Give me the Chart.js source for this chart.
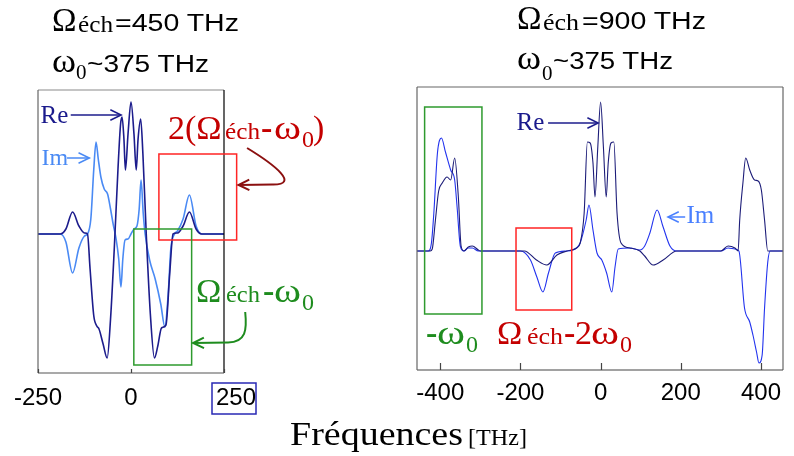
<!DOCTYPE html>
<html>
<head>
<meta charset="utf-8">
<script src="https://cdn.jsdelivr.net/npm/chart.js@4.4.1/dist/chart.umd.min.js"></script>
<style>
    body { margin: 0; background: #fff; }
    #wrap { position: relative; width: 794px; height: 456px; overflow: hidden; }
    #chartLeft { position: absolute; left: 0; top: 0; }
    #chartRight { position: absolute; left: 390px; top: 0; }
    #labels { position: absolute; left: 0; top: 0; pointer-events: none; }
</style>
</head>
<body>
<div id="wrap">
    <canvas id="chartLeft" width="300" height="456"></canvas>
    <canvas id="chartRight" width="404" height="456"></canvas>
    <svg id="labels" width="794" height="456" font-family="'Liberation Serif', 'Times New Roman', serif">
        <!-- titles -->
        <text x="52" y="30.5" font-size="33">Ω</text>
        <text x="78" y="31.5" font-size="23" textLength="35" lengthAdjust="spacingAndGlyphs">éch</text>
        <text x="115" y="30.5" font-size="23" font-family="'Liberation Sans', Arial, sans-serif" textLength="124" lengthAdjust="spacingAndGlyphs">=450 THz</text>
        <text x="52" y="71.5" font-size="34" textLength="24" lengthAdjust="spacingAndGlyphs">ω</text>
        <text x="76" y="79" font-size="21">0</text>
        <text x="87" y="71.5" font-size="23" font-family="'Liberation Sans', Arial, sans-serif" textLength="122" lengthAdjust="spacingAndGlyphs">~375 THz</text>

        <text x="517" y="28.5" font-size="33">Ω</text>
        <text x="543" y="29.5" font-size="23" textLength="36" lengthAdjust="spacingAndGlyphs">éch</text>
        <text x="582" y="28.5" font-size="23" font-family="'Liberation Sans', Arial, sans-serif" textLength="124" lengthAdjust="spacingAndGlyphs">=900 THz</text>
        <text x="517" y="68.5" font-size="34" textLength="24" lengthAdjust="spacingAndGlyphs">ω</text>
        <text x="542" y="79.5" font-size="21">0</text>
        <text x="553" y="68.5" font-size="23" font-family="'Liberation Sans', Arial, sans-serif" textLength="120" lengthAdjust="spacingAndGlyphs">~375 THz</text>

        <!-- Re / Im tags -->
        <text x="40.5" y="123" font-size="25" fill="#1a1a8c">Re</text>
        <text x="41.5" y="165" font-size="24" fill="#4a8af4">Im</text>
        <text x="516.5" y="130" font-size="25" fill="#1a1a8c">Re</text>
        <text x="686.5" y="223" font-size="25" fill="#4a80ff">Im</text>

        <!-- aliasing notes -->
        <g fill="#c40000">
            <text x="168" y="138.5" font-size="34">2(Ω</text>
            <text x="225" y="139" font-size="24" textLength="35" lengthAdjust="spacingAndGlyphs">éch</text>
            <text x="261" y="138.5" font-size="34" font-weight="bold">-</text>
            <text x="274" y="138.5" font-size="34" textLength="27" lengthAdjust="spacingAndGlyphs">ω</text>
            <text x="302" y="147" font-size="24">0</text>
            <text x="313" y="138.5" font-size="34">)</text>

            <text x="497" y="343.5" font-size="34">Ω</text>
            <text x="527" y="344" font-size="24" textLength="36" lengthAdjust="spacingAndGlyphs">éch</text>
            <text x="564" y="343.5" font-size="34" font-weight="bold">-</text>
            <text x="575" y="343.5" font-size="34">2</text>
            <text x="591" y="343.5" font-size="34" textLength="28" lengthAdjust="spacingAndGlyphs">ω</text>
            <text x="620" y="352" font-size="24">0</text>
        </g>
        <g fill="#1e8c1e">
            <text x="196" y="301.5" font-size="34">Ω</text>
            <text x="226" y="302" font-size="24" textLength="34" lengthAdjust="spacingAndGlyphs">éch</text>
            <text x="263" y="301.5" font-size="34" font-weight="bold">-</text>
            <text x="274" y="301.5" font-size="34" textLength="27" lengthAdjust="spacingAndGlyphs">ω</text>
            <text x="302" y="310" font-size="24">0</text>

            <text x="426" y="343.5" font-size="34" font-weight="bold">-</text>
            <text x="437" y="343.5" font-size="34" textLength="28" lengthAdjust="spacingAndGlyphs">ω</text>
            <text x="466" y="352" font-size="24">0</text>
        </g>

        <!-- axis title -->
        <text x="290" y="445" font-size="34" textLength="173" lengthAdjust="spacingAndGlyphs">Fréquences</text>
        <text x="468" y="445" font-size="24" textLength="59" lengthAdjust="spacingAndGlyphs">[THz]</text>
    </svg>
</div>

<script>
// ---- left panel: Omega_ech = 450 THz ----
const leftTicks = [-250, 0, 250];
const leftReFreq = [-250, -190, -175, -157, -140, -125, -117, -110, -100, -92, -86, -75, -64, -55, -45, -35, -28, -24, -19, -15, -8, 0, 8, 14, 19, 26, 32, 41, 52, 63, 72, 82, 94, 104, 113, 125, 140, 157, 175, 190, 250];
const leftReVals = [0, 0, 5, 22, 8, 1, 0, -35, -82, -92, -95, -110, -124, -85, -15, 65, 110, 117, 95, 64, 100, 132, 100, 64, 95, 115, 80, 0, -80, -124, -112, -94, -91, -40, 0, 1, 8, 22, 5, 0, 0];
const leftImFreq = [-250, -190, -175, -157, -140, -125, -117, -108, -100, -94, -88, -81, -72, -63, -55, -48, -40, -33, -27, -22, -16, -8, 0, 8, 16, 22, 27, 33, 38, 50, 65, 80, 91, 100, 107, 117, 125, 140, 157, 175, 190, 250];
const leftImVals = [0, 0, -8, -39, -14, -2, 0, 15, 65, 92, 75, 57, 45, 40, 25, 10, -5, -25, -53, -25, -6, -5, 0, 5, 8, 25, 54, 20, 0, -26, -45, -70, -93, -60, -15, 0, 3, 15, 39, 8, 0, 0];

// ---- right panel: Omega_ech = 900 THz ----
const rightTicks = [-400, -200, 0, 200, 400];
const rightReFreq = [-458, -425, -420, -412, -404, -395, -383, -374, -364, -355, -348, -341, -330, -320, -305, -300, -190, -160, -134, -109, -84, -60, -51, -41, -33, -26, -19, -14, -7, 0, 7, 14, 19, 26, 33, 41, 51, 73, 98, 110, 131, 156, 190, 300, 318, 335, 343, 347, 355, 362, 372, 384, 393, 401, 409, 417, 455];
const rightReVals = [0, 0, 2, 31, 60, 68, 74, 71, 93, 55, 5, 0, 4, 5, 1, 0, 0, -9, -14, -4, 0, 3, 8, 38, 109, 108, 88, 54, 104, 149, 104, 54, 88, 108, 109, 38, 8, 3, 0, -5, -14, -9, 0, 0, 5, 3, 0, 31, 68, 93, 81, 71, 70, 61, 31, 0, 0];
const rightImFreq = [-458, -430, -422, -416, -407, -397, -387, -374, -364, -358, -350, -341, -330, -320, -305, -200, -175, -159, -144, -130, -113, -84, -60, -51, -36, -29, -19, -9, 3, 15, 28, 36, 44, 73, 98, 110, 123, 141, 156, 173, 190, 300, 318, 335, 345, 359, 372, 380, 389, 395, 403, 409, 417, 423, 455];
const rightImVals = [0, 0, 8, 38, 98, 113, 99, 81, 71, 44, 5, 0, 3, 3, 0, 0, -9, -26, -41, -22, -2, 0, 3, 8, 31, 46, 21, -2, -9, -22, -41, -16, 2, 3, 1, 5, 18, 41, 24, 5, 0, 0, 3, 2, 0, -57, -71, -84, -101, -112, -104, -57, -11, 0, 0];

const pairs = (xs, ys) => xs.map((x, i) => ({ x: x, y: ys[i] }));

// frame, inward ticks, boxes and arrows, placed through the chart scales
const notesPlugin = {
    id: 'notes',
    afterDatasetsDraw(chart, args, opts) {
        const { ctx, chartArea: a, scales: { x, y } } = chart;
        const px = v => x.getPixelForValue(v);
        const py = v => y.getPixelForValue(v);
        ctx.save();
        ctx.lineCap = 'butt';

        const side = (x1, y1, x2, y2, color) => {
            ctx.strokeStyle = color;
            ctx.lineWidth = 1.2;
            ctx.beginPath();
            ctx.moveTo(x1, y1);
            ctx.lineTo(x2, y2);
            ctx.stroke();
        };
        side(a.left, a.top, a.right, a.top, opts.frame[0]);
        side(a.right, a.top, a.right, a.bottom, opts.frame[1]);
        side(a.left, a.bottom, a.right, a.bottom, opts.frame[2]);
        side(a.left, a.top, a.left, a.bottom, opts.frame[3]);

        x.ticks.forEach(t => {
            const p = Math.round(px(t.value)) + 0.5;
            side(p, a.bottom, p, a.bottom - opts.tickLen, '#444');
        });

        (opts.boxes || []).forEach(b => {
            ctx.strokeStyle = b.color;
            ctx.lineWidth = 1.5;
            ctx.strokeRect(px(b.x0), py(b.y0), px(b.x1) - px(b.x0), py(b.y1) - py(b.y0));
        });

        const head = (tx, ty, fx, fy, color, w) => {
            const ang = Math.atan2(ty - fy, tx - fx);
            const len = 12, spread = 0.45;
            ctx.strokeStyle = color;
            ctx.lineWidth = w;
            ctx.beginPath();
            ctx.moveTo(tx - len * Math.cos(ang - spread), ty - len * Math.sin(ang - spread));
            ctx.lineTo(tx, ty);
            ctx.lineTo(tx - len * Math.cos(ang + spread), ty - len * Math.sin(ang + spread));
            ctx.stroke();
        };

        (opts.arrows || []).forEach(ar => {
            ctx.strokeStyle = ar.color;
            ctx.lineWidth = ar.width;
            ctx.beginPath();
            const [s, ...rest] = ar.path;
            ctx.moveTo(px(s[0]), py(s[1]));
            if (ar.curve) {
                ctx.bezierCurveTo(px(rest[0][0]), py(rest[0][1]), px(rest[1][0]), py(rest[1][1]), px(rest[2][0]), py(rest[2][1]));
            }
            ctx.lineTo(px(ar.tip[0]), py(ar.tip[1]));
            ctx.stroke();
            const prev = ar.curve ? rest[2] : s;
            head(px(ar.tip[0]), py(ar.tip[1]), px(prev[0]), py(prev[1]), ar.color, ar.width);
        });

        if (opts.markTick !== undefined) {
            const p = px(opts.markTick);
            ctx.strokeStyle = '#2828b4';
            ctx.lineWidth = 1.5;
            ctx.strokeRect(p - 12, a.bottom + 10, 44, 31);
        }
        ctx.restore();
    }
};

function SpectrumChart(canvas, options) {
    new Chart(canvas, {
        type: 'line',
        data: {
            datasets: [{
                label: 'Re',
                data: options.re,
                borderColor: options.reColor,
                borderWidth: options.lineWidth,
                pointRadius: 0,
                cubicInterpolationMode: 'monotone'
            }, {
                label: 'Im',
                data: options.im,
                borderColor: options.imColor,
                borderWidth: options.lineWidth,
                pointRadius: 0,
                cubicInterpolationMode: 'monotone'
            }]
        },
        options: {
            responsive: false,
            animation: false,
            layout: {
                padding: options.padding
            },
            plugins: {
                legend: { display: false },
                tooltip: { enabled: false },
                notes: options.notes
            },
            scales: {
                x: {
                    type: 'linear',
                    min: options.xMin,
                    max: options.xMax,
                    afterBuildTicks: s => { s.ticks = options.ticks.map(v => ({ value: v })); },
                    afterFit: s => { s.height = 40; },
                    grid: { display: false, drawTicks: false },
                    border: { display: false },
                    ticks: {
                        color: '#000',
                        padding: options.labelPad,
                        maxRotation: 0,
                        autoSkip: false,
                        font: { family: "'Liberation Sans', Arial, sans-serif", size: 24 },
                        callback: options.tickLabel || (v => String(v))
                    }
                },
                y: {
                    display: false,
                    min: options.yMin,
                    max: options.yMax
                }
            }
        },
        plugins: [notesPlugin]
    });
}

SpectrumChart(document.getElementById('chartLeft'), {
    re: pairs(leftReFreq, leftReVals),
    im: pairs(leftImFreq, leftImVals),
    reColor: '#1c1c8c',
    imColor: '#4a8af4',
    lineWidth: 1.6,
    xMin: -250,
    xMax: 250,
    yMin: -139,
    yMax: 144,
    ticks: leftTicks,
    labelPad: 11,
    tickLabel: v => v === 250 ? '\u2002\u2002250' : String(v),
    padding: { top: 90, left: 38, right: 76, bottom: 43 },
    notes: {
        frame: ['#8a8a8a', '#000', '#555', '#666'],
        tickLen: 4,
        markTick: 250,
        boxes: [
            { x0: 75, x1: 284, y0: 80, y1: -6, color: '#ff2525' },
            { x0: 7.6, x1: 163, y0: 5, y1: -131, color: '#2e9a2e' }
        ],
        arrows: [
            { path: [[-162, 119]], tip: [-26.5, 119], color: '#1c1c8c', width: 1.5 },
            { path: [[-172, 76]], tip: [-112, 76], color: '#4a8af4', width: 1.5 },
            { curve: true, path: [[312, 86], [387, 69], [455, 49], [380, 49.5]], tip: [289, 49], color: '#8b1010', width: 2 },
            { curve: true, path: [[307, -78], [312, -96], [309, -108], [261, -108.5]], tip: [167, -109], color: '#1e8c1e', width: 2 }
        ]
    }
});

SpectrumChart(document.getElementById('chartRight'), {
    re: pairs(rightReFreq, rightReVals),
    im: pairs(rightImFreq, rightImVals),
    reColor: '#1c1c78',
    imColor: '#2233ee',
    lineWidth: 1.1,
    xMin: -458,
    xMax: 455,
    yMin: -119,
    yMax: 164,
    ticks: rightTicks,
    labelPad: 9,
    padding: { top: 87, left: 27, right: 11, bottom: 46 },
    notes: {
        frame: ['#666', '#666', '#444', '#666'],
        tickLen: 7,
        boxes: [
            { x0: -439, x1: -296, y0: 144, y1: -63, color: '#2e9a2e' },
            { x0: -211, x1: -72, y0: 23, y1: -59, color: '#ff2525' }
        ],
        arrows: [
            { path: [[-131, 128]], tip: [-6, 128], color: '#1c1c8c', width: 1.5 },
            { path: [[211, 34]], tip: [168, 34], color: '#4a80ff', width: 1.5 }
        ]
    }
});
</script>
</body>
</html>
